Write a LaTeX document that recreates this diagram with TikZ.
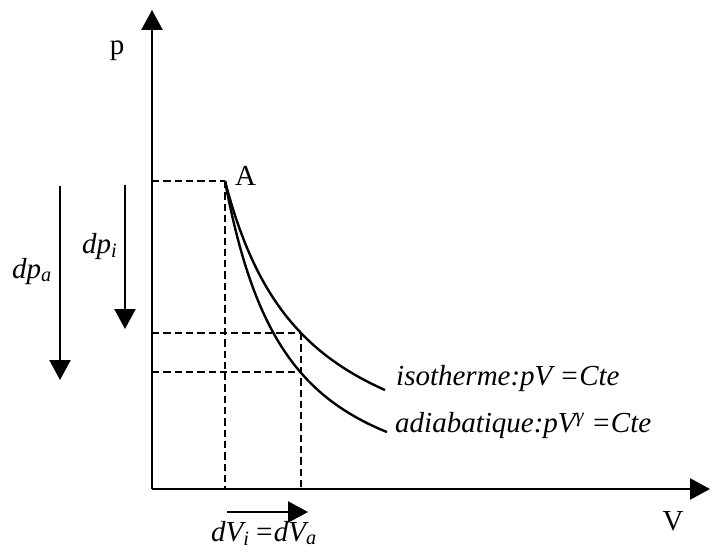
\documentclass[tikz,border=0pt]{standalone}
\usepackage{fontspec}
\setmainfont{Liberation Serif}
\usetikzlibrary{arrows.meta}
\tikzset{
  axis/.style={line width=2.6pt,-{Triangle[length=20pt,width=21pt]}},
  bigarrow/.style={line width=2.4pt,-{Triangle[length=20pt,width=21pt]}},
  guide/.style={line width=1.7pt,dash pattern=on 7.3pt off 4pt},
  curve/.style={line width=2.4pt},
  lbl/.style={inner sep=0pt,font=\fontsize{29}{33}\selectfont},
  ilbl/.style={inner sep=0pt,font=\fontsize{29}{33}\selectfont\itshape},
}
\begin{document}
\begin{tikzpicture}[x=1pt,y=-1pt]
\useasboundingbox (0,0) rectangle (717,551);
% key points
\coordinate (O) at (152,489);
\coordinate (ytip) at (152,10);
\coordinate (xtip) at (710,489);
\coordinate (A) at (225,181);
\coordinate (Ay) at (152,181);
\coordinate (Ax) at (225,489);
\coordinate (I) at (301,333);
\coordinate (Iy) at (152,333);
\coordinate (Ia) at (301,372);
\coordinate (Ay2) at (152,372);
\coordinate (Ix) at (301,489);
% axes
\draw[axis] (O) -- (ytip);
\draw[axis] (O) -- (xtip);
% guides
\draw[guide] (Ay) -- (A);
\draw[guide] (A) -- (Ax);
\draw[guide] (Iy) -- (I);
\draw[guide] (Ay2) -- (Ia);
\draw[guide] (I) -- (Ix);
% isotherm
\draw[curve,domain=225:385,samples=90,smooth] plot (\x,{497.4-260.08/((\x-142.8)/100)});
% adiabatic
\draw[curve,domain=225:387,samples=90,smooth] plot (\x,{501-320*(88/(\x-137))^1.47});
% labels
\node[lbl,anchor=base] (plbl) at (117,55) {p};
\node[lbl,anchor=base west] (Albl) at (235,185) {A};
\node[lbl,anchor=base] (Vlbl) at (673,530) {V};
\node[ilbl,anchor=base west] (iso) at (396,385) {isotherme:pV =Cte};
\node[ilbl,anchor=base west] (adia) at (395,432) {adiabatique:pV\textsuperscript{γ} =Cte};
% pressure arrows
\coordinate (pa1) at (60,186);
\coordinate (pa2) at (60,380);
\coordinate (pi1) at (125,185);
\coordinate (pi2) at (125,329);
\draw[bigarrow] (pa1) -- (pa2);
\draw[bigarrow] (pi1) -- (pi2);
\node[ilbl,anchor=base west] (dpa) at (12,278) {dp\textsubscript{a}};
\node[ilbl,anchor=base west] (dpi) at (82,253) {dp\textsubscript{i}};
% volume arrow
\coordinate (v1) at (227,512);
\coordinate (v2) at (308,512);
\draw[bigarrow] (v1) -- (v2);
\node[ilbl,anchor=base west] (dv) at (211,541) {dV\textsubscript{i}\,=dV\textsubscript{a}};
\end{tikzpicture}
\end{document}
